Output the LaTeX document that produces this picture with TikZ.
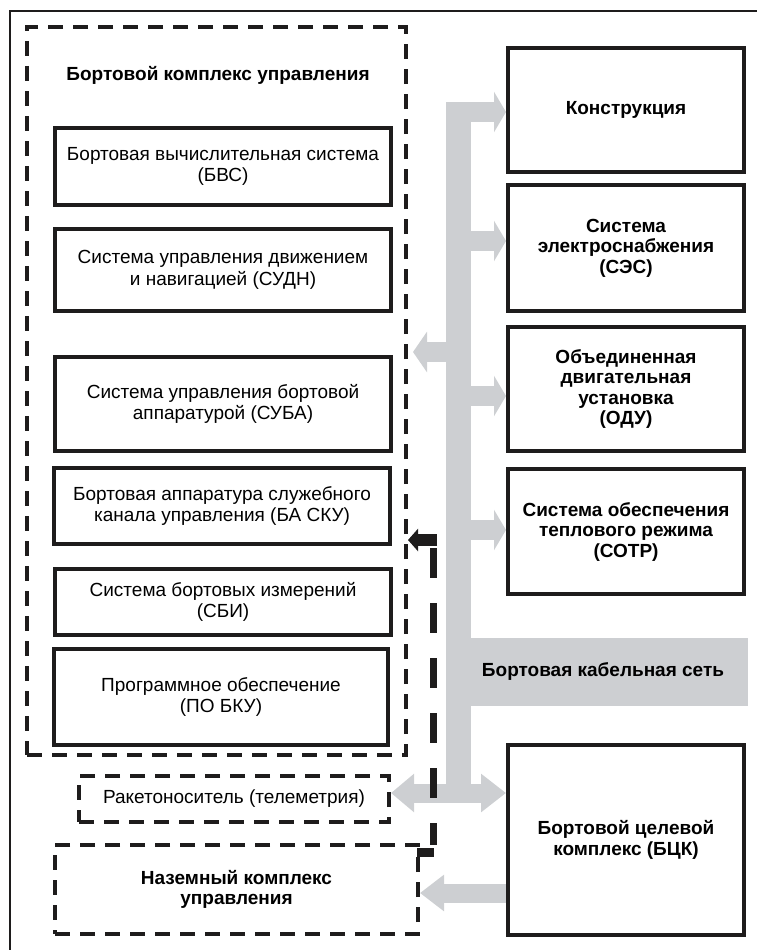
\documentclass[tikz,border=0pt]{standalone}
\usepackage{fontspec}
\setmainfont{Liberation Sans}
\usetikzlibrary{arrows.meta,calc}
\definecolor{busgray}{RGB}{205,207,210}
\definecolor{ink}{RGB}{30,28,28}
\newcommand\regtext{\fontsize{19}{21.5}\selectfont}
\newcommand\boldtext{\fontsize{19}{20.5}\selectfont\bfseries}
\tikzset{
  sysbox/.style={draw=ink, line width=4pt, align=center, inner sep=2pt, font=\regtext},
  subbox/.style={draw=ink, line width=4pt, align=center, inner sep=2pt, font=\boldtext},
  dashbox/.style={draw=ink, line width=4pt, dash pattern=on 15pt off 10pt, align=center, inner sep=2pt},
  fat/.style={busgray, line width=20pt, -{Triangle[length=12pt,width=40pt]}},
}
\begin{document}
\begin{tikzpicture}[x=1pt,y=-1pt]
\useasboundingbox (0,0) rectangle (756,950);
\draw[ink, line width=1.4pt] (10,960) -- (10,11) -- (770,11);

% on-board control complex
\node[dashbox, minimum width=379pt, minimum height=728pt] (bku) at (216.5,391) {};
\node[font=\boldtext] (bkutitle) at (218,75) {Бортовой комплекс управления};
\node[sysbox, minimum width=336pt, minimum height=77pt] (bvs) at (223,166.5) {Бортовая вычислительная система\\(БВС)};
\node[sysbox, minimum width=336pt, minimum height=82pt] (sudn) at (223,270) {Система управления движением\\и навигацией (СУДН)};
\node[sysbox, minimum width=336pt, minimum height=94pt] (suba) at (223,404) {Система управления бортовой\\аппаратурой (СУБА)};
\node[sysbox, minimum width=336pt, minimum height=76pt] (basku) at (222,506) {Бортовая аппаратура служебного\\канала управления (БА СКУ)};
\node[sysbox, minimum width=336pt, minimum height=66pt] (sbi) at (223,602) {Система бортовых измерений\\(СБИ)};
\node[sysbox, minimum width=334pt, minimum height=96pt] (po) at (221,697) {Программное обеспечение\\(ПО БКУ)};

\node[dashbox, font=\regtext, minimum width=310pt, minimum height=46pt] (rn) at (234,799) {Ракетоноситель (телеметрия)};
\node[dashbox, font=\boldtext, minimum width=363pt, minimum height=89pt] (nk) at (236.5,889.5) {Наземный комплекс\\управления};

% right subsystems
\node[subbox, minimum width=236pt, minimum height=124pt] (kon) at (626,110) {Конструкция};
\node[subbox, minimum width=236pt, minimum height=126pt] (ses) at (626,248) {Система\\электроснабжения\\(СЭС)};
\node[subbox, minimum width=236pt, minimum height=124pt] (odu) at (626,389) {Объединенная\\двигательная\\установка\\(ОДУ)};
\node[subbox, minimum width=236pt, minimum height=125pt] (sotr) at (626,531.5) {Система обеспечения\\теплового режима\\(СОТР)};
\node[subbox, minimum width=236pt, minimum height=190pt] (bck) at (626,840) {Бортовой целевой\\комплекс (БЦК)};

% cable network
\node[fill=busgray, inner sep=0pt, minimum width=25pt, minimum height=701pt] (bus) at (458.5,452.5) {};
\node[fill=busgray, inner sep=0pt, minimum width=280pt, minimum height=68pt] (net) at (608,672) {};
\node[font=\boldtext] (netlbl) at (603,671) {Бортовая кабельная сеть};

\draw[fat] (bus.center |- 0,112) -- (kon.west |- 0,112);
\draw[fat] (bus.center |- 0,241) -- (ses.west |- 0,241);
\draw[fat] (bus.center |- 0,396) -- (odu.west |- 0,396);
\draw[fat] (bus.center |- 0,530) -- (sotr.west |- 0,530);
\draw[fat, -{Triangle[length=14pt,width=40pt]}] (bus.center |- 0,352) -- ($(bku.east |- 0,352)+(5,0)$);
\draw[busgray, line width=19pt, {Triangle[length=23pt,width=37pt]}-{Triangle[length=25pt,width=37pt]}] (rn.east |- 0,793) -- (bck.west |- 0,793);
\draw[busgray, line width=19pt, -{Triangle[length=24pt,width=35pt]}] (bck.west |- 0,893) -- (nk.east |- 0,893);

% ground control link
\draw[ink, line width=7pt, dash pattern=on 30pt off 25pt] (433,548) -- (433,845);
\draw[ink, line width=12pt, -{Triangle[length=10pt,width=22pt]}] (437,540) -- (bku.east |- 0,540);
\draw[ink, line width=9pt] ($(nk.east |- 0,852)+(-3,0)$) -- (434,852);
\end{tikzpicture}
\end{document}
